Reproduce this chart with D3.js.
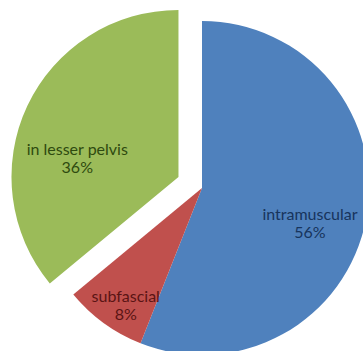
<!DOCTYPE html>
<html>
<head>
<meta charset="utf-8">
<script src="https://cdn.jsdelivr.net/npm/d3@7"></script>
<style>
html,body{margin:0;padding:0;background:#fff;}
svg{display:block;}
</style>
</head>
<body>
<svg id="chart" width="363" height="351"></svg>
<script>
const categories = ["intramuscular", "subfascial", "in lesser pelvis"];
const values = [56, 8, 36];
const percentLabels = ["56%", "8%", "36%"];

const colors = ["#4F81BD", "#C0504D", "#9BBB59"];
const textColors = ["#17345c", "#5a1414", "#2e4a0f"];
const explode = [0, 0, 26];
const labelRadius = [114, 140, 103];
const labelShift = [[-4, 15], [6, 5], [-8, 26]];

const W = 363, H = 351, cx = 202, cy = 188, R = 167;
const svg = d3.select("#chart");
svg.append("rect").attr("width", W).attr("height", H).attr("fill", "#fff");

const pie = d3.pie().sort(null).value(d => d)(values);
const arc = d3.arc().innerRadius(0).outerRadius(R);
const g = svg.append("g").attr("transform", `translate(${cx},${cy})`);

pie.forEach((p, i) => {
  const mid = (p.startAngle + p.endAngle) / 2;
  const ox = explode[i] * Math.sin(mid), oy = -explode[i] * Math.cos(mid);
  const sg = g.append("g").attr("transform", `translate(${ox},${oy})`);
  sg.append("path").attr("d", arc(p)).attr("fill", colors[i]);
  const lr = labelRadius[i];
  const lx = lr * Math.sin(mid) + labelShift[i][0];
  const ly = -lr * Math.cos(mid) + labelShift[i][1];
  const t = sg.append("text")
    .attr("text-anchor", "middle")
    .attr("font-family", "Lato, 'Open Sans', sans-serif")
    .attr("font-size", 16)
    .attr("fill", textColors[i]);
  t.append("tspan").attr("x", lx).attr("y", ly - 4).text(categories[i]);
  t.append("tspan").attr("x", lx).attr("y", ly + 14).text(percentLabels[i]);
});
</script>
</body>
</html>
